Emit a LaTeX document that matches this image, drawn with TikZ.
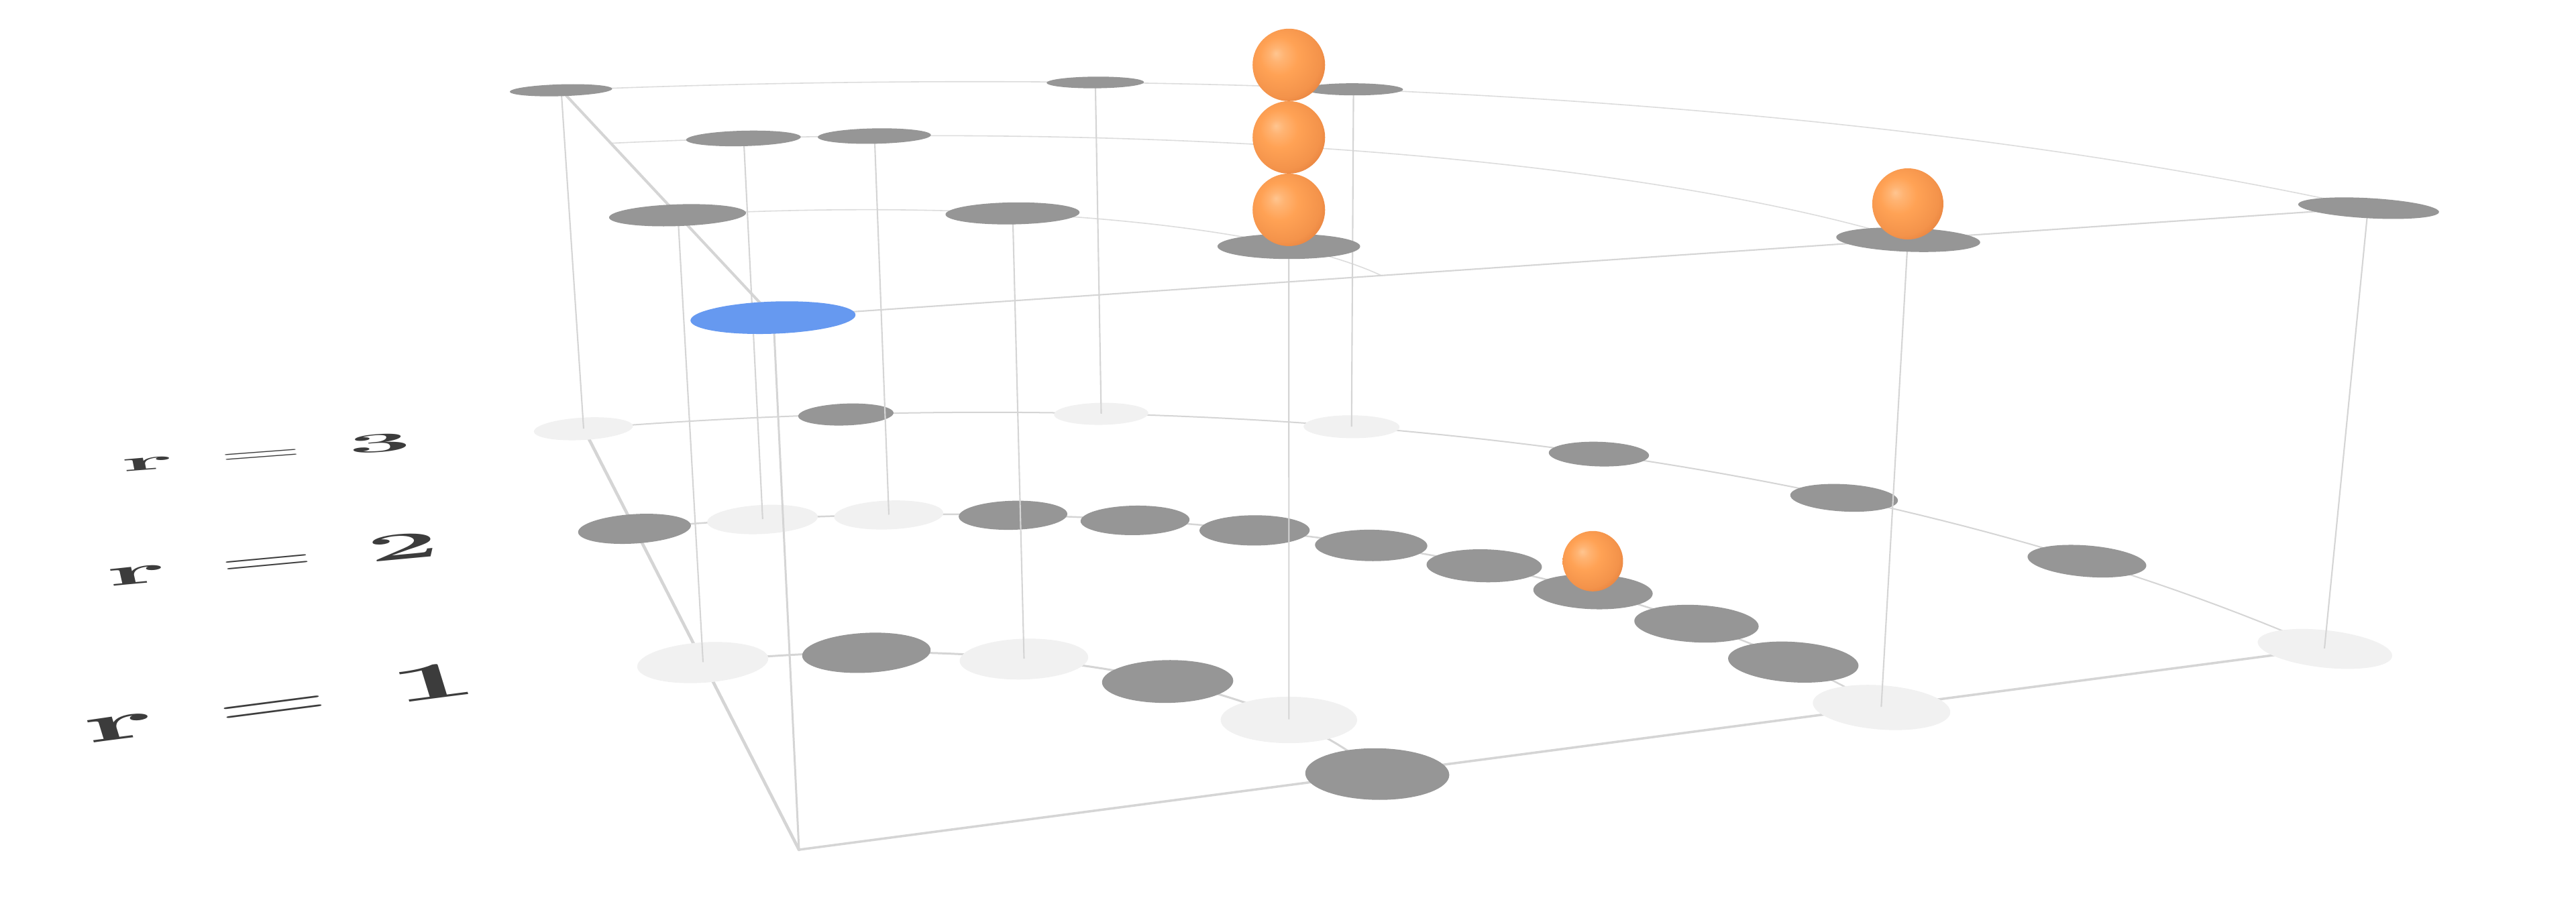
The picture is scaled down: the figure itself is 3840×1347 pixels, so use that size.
\documentclass[tikz,border=0pt]{standalone}
\definecolor{linegray}{HTML}{D5D5D5}
\definecolor{linetop}{HTML}{DCDCDC}
\definecolor{diskdark}{HTML}{969696}
\definecolor{disklight}{HTML}{F1F1F1}
\definecolor{diskblue}{HTML}{6699F0}
\definecolor{labelgray}{HTML}{3C3C3C}
\definecolor{ballhl}{HTML}{FFC590}
\definecolor{ballmid}{HTML}{FFA255}
\definecolor{balldark}{HTML}{E27C3B}
\pgfdeclareradialshading{orangeball}{\pgfpoint{-9bp}{8bp}}{color(0bp)=(ballhl); color(5bp)=(ballhl!50!ballmid); color(13bp)=(ballmid); color(26bp)=(ballmid!60!balldark); color(34bp)=(balldark); color(50bp)=(balldark)}
\def\drad{0.124}
% point of plane (b = bottom, t = top) in polar coordinates
\newcommand\mypt[4]{\coordinate (#1) at ({u#4((#2)*cos(#3),(#2)*sin(#3))},{v#4((#2)*cos(#3),(#2)*sin(#3))});}
% disk of the plane, seen in perspective
\newcommand\mydisk[4]{%
  \pgfmathsetmacro\dX{(#1)*cos(#2)}%
  \pgfmathsetmacro\dY{(#1)*sin(#2)}%
  \fill[#4] plot[domain=0:360,samples=73,variable=\s]
    ({u#3(\dX+\drad*cos(\s),\dY+\drad*sin(\s))},{v#3(\dX+\drad*cos(\s),\dY+\drad*sin(\s))}) -- cycle;}
\begin{document}
\begin{tikzpicture}[x=0.01cm,y=-0.01cm,
  declare function={
    Db(\x,\y)=1+0.07365*\x+0.2022*\y;
    ub(\x,\y)=(1013.2*\x+68.9*\y+1191)/Db(\x,\y);
    vb(\x,\y)=(-28.8*\x-80.1*\y+1267)/Db(\x,\y);
    Dt(\x,\y)=0.9506+0.07365*\x+0.2022*\y;
    ut(\x,\y)=(1013.2*\x+68.9*\y+1096.0)/Dt(\x,\y);
    vt(\x,\y)=(-28.8*\x-80.1*\y+449.6)/Dt(\x,\y);
  },
  arcbottom/.style={draw=linegray},
  arctop/.style={draw=linetop, line width=0.45pt},
  edgeline/.style={draw=linegray, line cap=round},
  colline/.style={draw=linegray, line width=0.6pt},
  ballshade/.style={shading=orangeball},
  rlabel/.style={text=labelgray, inner sep=0pt, font=\Huge}
]
\useasboundingbox[fill=white] (0,0) rectangle (3840,1347);

% ---------- named points ----------
\coordinate (bo) at ({ub(0,0)},{vb(0,0)});
\coordinate (to) at ({ut(0,0)},{vt(0,0)});
\foreach \i in {0,...,7}  {\mypt{b3-\i}{3}{90-\i*90/7}{b}\mypt{t3-\i}{3}{90-\i*90/7}{t}}
\foreach \i in {0,...,11} {\mypt{b2-\i}{2}{90-\i*90/11}{b}\mypt{t2-\i}{2}{90-\i*90/11}{t}}
\foreach \i in {0,...,5}  {\mypt{b1-\i}{1}{90-\i*18}{b}\mypt{t1-\i}{1}{90-\i*18}{t}}

% ---------- arcs ----------
\draw[arcbottom, line width=0.57pt] plot[domain=0:90,samples=80,variable=\q] ({ub(3*cos(\q),3*sin(\q))},{vb(3*cos(\q),3*sin(\q))});
\draw[arcbottom, line width=0.7pt]  plot[domain=0:90,samples=70,variable=\q] ({ub(2*cos(\q),2*sin(\q))},{vb(2*cos(\q),2*sin(\q))});
\draw[arcbottom, line width=0.85pt] plot[domain=0:90,samples=60,variable=\q] ({ub(cos(\q),sin(\q))},{vb(cos(\q),sin(\q))});
\draw[arctop] plot[domain=0:90,samples=80,variable=\q] ({ut(3*cos(\q),3*sin(\q))},{vt(3*cos(\q),3*sin(\q))});
\draw[arctop] plot[domain=0:90,samples=70,variable=\q] ({ut(2*cos(\q),2*sin(\q))},{vt(2*cos(\q),2*sin(\q))});
\draw[arctop] plot[domain=0:90,samples=60,variable=\q] ({ut(cos(\q),sin(\q))},{vt(cos(\q),sin(\q))});

% ---------- edges ----------
\draw[edgeline, line width=1.3pt]  (bo) -- (b3-0);
\draw[edgeline, line width=1.0pt]  (bo) -- (b3-7);
\draw[edgeline, line width=1.15pt] (to) -- (t3-0);
\draw[edgeline, line width=0.6pt]  (to) -- (t3-7);

% ---------- bottom disks ----------
\foreach \i/\c in {0/disklight,1/diskdark,2/disklight,3/disklight,4/diskdark,5/diskdark,6/diskdark,7/disklight}
  {\mydisk{3}{90-\i*90/7}{b}{\c}}
\foreach \i/\c in {0/diskdark,1/disklight,2/disklight,3/diskdark,4/diskdark,5/diskdark,6/diskdark,7/diskdark,8/diskdark,9/diskdark,10/diskdark,11/disklight}
  {\mydisk{2}{90-\i*90/11}{b}{\c}}
\foreach \i/\c in {0/disklight,1/diskdark,2/disklight,3/diskdark,4/disklight,5/diskdark}
  {\mydisk{1}{90-\i*18}{b}{\c}}

% ---------- columns ----------
\foreach \n in {3-0,3-2,3-3,3-7,2-1,2-2,2-11,1-0,1-2,1-4}
  {\draw[colline] (t\n) -- (b\n);}
\draw[colline, line width=0.85pt] (to) -- (bo);

% ---------- top disks ----------
\foreach \r/\a in {3/90,3/64.285714,3/51.428571,3/0,2/81.818182,2/73.636364,2/0,1/90,1/54,1/18}
  {\mydisk{\r}{\a}{t}{diskdark}}
\mydisk{0}{0}{t}{diskblue}

% ---------- balls ----------
\shade[ballshade] ([yshift=0.54cm]t1-4) circle[radius=0.54cm];
\shade[ballshade] ([yshift=1.62cm]t1-4) circle[radius=0.54cm];
\shade[ballshade] ([yshift=2.70cm]t1-4) circle[radius=0.54cm];
\shade[ballshade] ([yshift=0.53cm]t2-11) circle[radius=0.53cm];
\shade[ballshade] ([yshift=0.45cm]b2-8) circle[radius=0.45cm];

% ---------- labels ----------
\node[rlabel, rotate=4.3, xslant=-0.12, xscale=1.93, yscale=0.46] (lab3) at (397,674)
  {$\mathbf{r}\hspace{0.135em}=\hspace{0.135em}\mathbf{3}$};
\node[rlabel, rotate=5.3, xslant=-0.13, xscale=2.19, yscale=0.65] (lab2) at (407,833)
  {$\mathbf{r}\hspace{0.15em}=\hspace{0.15em}\mathbf{2}$};
\node[rlabel, rotate=7.4, xslant=-0.17, xscale=2.60, yscale=0.88] (lab1) at (417,1047)
  {$\mathbf{r}\hspace{0.145em}=\hspace{0.145em}\mathbf{1}$};
\end{tikzpicture}
\end{document}
